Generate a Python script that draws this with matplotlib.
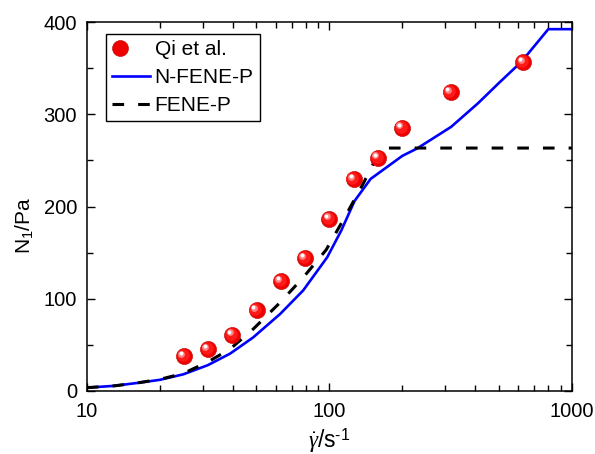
import matplotlib
matplotlib.use("Agg")
import matplotlib.pyplot as plt
from matplotlib.transforms import offset_copy
from matplotlib.lines import Line2D
from matplotlib.legend_handler import HandlerTuple
from matplotlib.ticker import FixedLocator, NullFormatter

plt.rcParams["font.family"] = ["Liberation Sans", "DejaVu Sans"]
plt.rcParams["mathtext.fontset"] = "custom"
plt.rcParams["mathtext.rm"] = "Liberation Sans"
plt.rcParams["mathtext.it"] = "Liberation Serif:italic"

# experimental data (Qi et al.)
qi_rate = [25.1, 31.6, 39.8, 50.1, 63.1, 79.4, 100, 125.9, 158.5, 199.5, 316.2, 631]
qi_n1 = [37.5, 45, 61, 87.5, 119, 144, 186.5, 229.5, 253, 285.5, 324, 356.5]

# N-FENE-P model
nf_rate = [10, 13, 16, 20, 25, 31.6, 39, 48.5, 62.7, 78, 98, 112, 127, 148, 200, 230, 318, 410, 500, 619, 800, 1000]
nf_n1 = [3.5, 5.5, 8.5, 12, 18, 28, 40.5, 58, 83.5, 109, 145, 174, 206, 230, 255, 263, 286.5, 312, 334, 357, 392.5, 392.5]

# FENE-P model
fp_rate = [10, 13, 16, 20, 25, 31.6, 39, 48.5, 62.7, 78, 97, 115, 138, 157, 170, 1000]
fp_n1 = [3.5, 5.5, 8.5, 12.5, 19, 31.5, 45.5, 67, 96, 123, 153, 187, 225, 254, 263.5, 263.5]

fig = plt.figure(figsize=(5.95, 4.54), dpi=100)
ax = fig.add_axes([0.146, 0.139, 0.815, 0.812])

dash = (0, (3.8, 4.6))
ax.plot(nf_rate, nf_n1, color="#0000ff", lw=1.9, zorder=2)
ax.plot(fp_rate, fp_n1, color="black", lw=2.2, ls=dash, zorder=3)

# shaded spheres for the data points
ax.scatter(qi_rate, qi_n1, s=135, color="#ee0000", edgecolors="#c00000", linewidths=0.4, zorder=4)
t1 = offset_copy(ax.transData, fig=fig, x=-0.8, y=0.8, units="points")
ax.scatter(qi_rate, qi_n1, s=80, color="#ff1a1a", linewidths=0, transform=t1, zorder=5)
t2 = offset_copy(ax.transData, fig=fig, x=-1.9, y=1.9, units="points")
ax.scatter(qi_rate, qi_n1, s=24, color="#ff8080", linewidths=0, transform=t2, zorder=6)
t3 = offset_copy(ax.transData, fig=fig, x=-2.2, y=2.2, units="points")
ax.scatter(qi_rate, qi_n1, s=8, color="white", linewidths=0, transform=t3, zorder=7)

ax.set_xscale("log")
ax.set_xlim(10, 1000)
ax.set_ylim(0, 400)
ax.set_yticks([0, 100, 200, 300, 400])
ax.yaxis.set_minor_locator(FixedLocator([50, 150, 250, 350]))
ax.set_xticks([10, 100, 1000])
ax.set_xticklabels(["10", "100", "1000"])
ax.xaxis.set_minor_formatter(NullFormatter())

ax.tick_params(which="both", direction="in", top=True, right=True, labelsize=14.5, width=1)
ax.tick_params(which="major", length=6)
ax.tick_params(which="minor", length=4)
ax.tick_params(axis="x", which="major", pad=8)
ax.tick_params(axis="y", which="major", pad=7)
for sp in ax.spines.values():
    sp.set_linewidth(1.1)

ax.set_xlabel(r"$\dot{\gamma}$/s$^{\text{-}1}$", fontsize=16.5)
ax.set_ylabel(r"N$_1$/Pa", fontsize=15)
ax.xaxis.set_label_coords(0.5, -0.095)
ax.yaxis.set_label_coords(-0.106, 0.45)

h_qi = (Line2D([], [], marker="o", ls="none", ms=11.5, color="#ee0000", mec="#c00000", mew=0.4),
        Line2D([], [], marker="o", ls="none", ms=3, color="white"))
h_nf = Line2D([], [], color="#0000ff", lw=1.9)
h_fp = Line2D([], [], color="black", lw=2.2, ls=dash)
leg = ax.legend([h_qi, h_nf, h_fp], ["Qi et al.", "N-FENE-P", "FENE-P"],
                handler_map={tuple: HandlerTuple(ndivide=None)},
                loc="upper left", bbox_to_anchor=(0.039, 0.9675), fontsize=15,
                frameon=True, fancybox=False, edgecolor="black", framealpha=1,
                handlelength=1.8, handletextpad=0.25, borderpad=0.3, labelspacing=0.42,
                borderaxespad=0)
leg.get_frame().set_linewidth(1.0)

fig.savefig("out.png", dpi=100)
